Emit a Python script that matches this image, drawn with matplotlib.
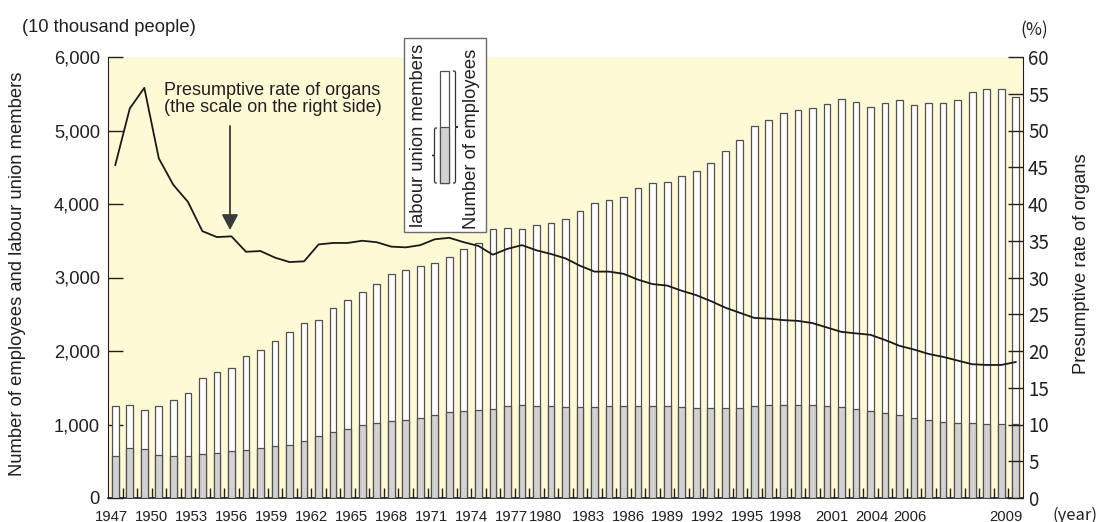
import numpy as np
import matplotlib
matplotlib.use('Agg')
import matplotlib.pyplot as plt
from matplotlib.patches import Rectangle, PathPatch
from matplotlib.path import Path

# ---------------- data ----------------
years = list(range(1947, 2010))
employees = [1254, 1264, 1196, 1250, 1340, 1427, 1634, 1711, 1766, 1933,
             2014, 2136, 2254, 2385, 2426, 2584, 2697, 2806, 2915, 3042,
             3096, 3159, 3199, 3277, 3390, 3471, 3657, 3675, 3661, 3711,
             3748, 3797, 3901, 4014, 4055, 4101, 4213, 4281, 4299, 4380,
             4448, 4562, 4725, 4875, 5065, 5141, 5241, 5282, 5309, 5367,
             5435, 5390, 5322, 5377, 5417, 5349, 5377, 5372, 5417, 5526,
             5567, 5567, 5458]
union_members = [571, 675, 671, 580, 571, 571, 598, 612, 634, 653,
                 684, 702, 721, 770, 843, 901, 942, 987, 1023, 1051,
                 1064, 1087, 1128, 1169, 1186, 1196, 1213, 1250, 1264, 1254,
                 1250, 1241, 1236, 1241, 1250, 1254, 1254, 1250, 1250, 1236,
                 1231, 1223, 1223, 1227, 1245, 1259, 1268, 1272, 1264, 1250,
                 1236, 1209, 1186, 1159, 1128, 1082, 1060, 1037, 1019, 1019,
                 1010, 1010, 1006]
org_rate = [45.3, 53.0, 55.8, 46.2, 42.6, 40.3, 36.3, 35.5, 35.6, 33.5,
            33.6, 32.7, 32.1, 32.2, 34.5, 34.7, 34.7, 35.0, 34.8, 34.2,
            34.1, 34.4, 35.2, 35.4, 34.8, 34.3, 33.1, 33.9, 34.4, 33.7,
            33.2, 32.6, 31.6, 30.8, 30.8, 30.5, 29.7, 29.1, 28.9, 28.2,
            27.6, 26.8, 25.9, 25.2, 24.5, 24.4, 24.2, 24.1, 23.8, 23.2,
            22.6, 22.4, 22.2, 21.5, 20.7, 20.2, 19.6, 19.2, 18.7, 18.2,
            18.1, 18.1, 18.5]
tick_labels = ['1947', '1950', '1953', '1956', '1959', '1962', '1965', '1968',
               '1971', '1974', '1977', '1980', '1983', '1986', '1989', '1992',
               '1995', '1998', '2001', '2004', '2006', '2009']

# ---------------- layout ----------------
plt.rcParams['font.family'] = ['Liberation Sans', 'DejaVu Sans']
CJK = ['Noto Sans CJK JP', 'DejaVu Sans']
TXT = '#231f20'
W, H = 1105, 522
L, R, B, T = 108, 1023, 498, 57
fig = plt.figure(figsize=(W / 100, H / 100), dpi=100)
ax = fig.add_axes([L / W, 1 - B / H, (R - L) / W, (B - T) / H])
ax.set_facecolor('#FFFAD6')

n = len(years)
x = np.arange(n)
slot = (R - L) / n
# label centres as placed in the reference (pixels), converted to data units
label_px = [111.7, 151.7, 191.7, 231.7, 271.7, 311.7, 351.7, 391.7, 431.7,
            471.7, 511, 545, 588, 628, 668, 707, 747, 785, 832, 872, 910, 1006]
label_pos = [(p - L) / slot - 0.5 for p in label_px]

bw = 0.46
ax.bar(x, employees, bw, color='white', edgecolor='#505050', linewidth=0.9, zorder=2)
ax.bar(x, union_members, bw, color='#d2d2d2', edgecolor='#505050', linewidth=0.9, zorder=3)
ax.set_xlim(-0.5, n - 0.5)
ax.set_ylim(0, 6000)
ax.set_yticks(range(0, 6001, 1000))
ax.set_yticklabels([f'{v:,}' for v in range(0, 6001, 1000)])
ax.tick_params(axis='y', direction='in', length=10.8, width=1, pad=5.8,
               labelsize=13.2, color=TXT, labelcolor=TXT)
ax.set_xticks(label_pos)
ax.set_xticklabels(tick_labels)
ax.tick_params(axis='x', which='major', length=0, pad=8.6, labelsize=10.7, labelcolor=TXT)
ax.set_xticks(x[:-1] + 0.5, minor=True)
ax.tick_params(axis='x', which='minor', direction='in', length=7.2, width=1, color=TXT)
for s in ['top', 'right']:
    ax.spines[s].set_visible(False)
ax.spines['left'].set_color(TXT)
ax.spines['bottom'].set_color(TXT)
ax.spines['bottom'].set_linewidth(1.2)

ax2 = ax.twinx()
ax2.plot(x, org_rate, color='#1a1a1a', linewidth=1.3, zorder=5)
ax2.set_ylim(0, 60)
ax2.set_yticks(range(0, 61, 5))
ax2.tick_params(axis='y', direction='in', length=10.8, width=1, pad=3.6,
                labelsize=13.5, color=TXT, labelcolor=TXT)
for lab in ax2.get_yticklabels():
    lab.set_fontfamily(CJK)
for s in ['top', 'left', 'bottom']:
    ax2.spines[s].set_visible(False)
ax2.spines['right'].set_color(TXT)

# ---------------- overlay (pixel coordinates) ----------------
ov = fig.add_axes([0, 0, 1, 1], zorder=10)
ov.set_xlim(0, W)
ov.set_ylim(H, 0)
ov.axis('off')
ov.patch.set_visible(False)

fs = 13.2
ov.text(22, 32, '(10 thousand people)', fontsize=fs, color=TXT, va='baseline', ha='left')
ov.text(1034, 30.5, '(%)', fontsize=12.5, color=TXT, ha='center', va='center', family=CJK)
ov.text(1053, 515, '(year)', fontsize=12, color=TXT, ha='left', va='center', family=CJK)
ov.text(18, 274, 'Number of employees and labour union members', rotation=90,
        fontsize=fs, color=TXT, ha='center', va='center')
ov.text(1081, 264, 'Presumptive rate of organs', rotation=90,
        fontsize=fs, color=TXT, ha='center', va='center')

# annotation
ov.text(164, 95, 'Presumptive rate of organs', fontsize=13, color=TXT, va='baseline', ha='left')
ov.text(164, 112.5, '(the scale on the right side)', fontsize=13, color=TXT, va='baseline', ha='left')
ov.annotate('', xy=(230, 230), xytext=(230, 126),
            arrowprops=dict(arrowstyle='-|>,head_length=0.94,head_width=0.5',
                            mutation_scale=10, color='#3a3a3a', lw=1.3,
                            shrinkA=0, shrinkB=0))

# legend box
ov.add_patch(Rectangle((404, 38), 82, 194, facecolor='white', edgecolor='#6b6b6b', lw=1))
ov.add_patch(Rectangle((440, 71), 9, 112, facecolor='white', edgecolor='#505050', lw=0.9))
ov.add_patch(Rectangle((440, 127), 9, 56, facecolor='#d2d2d2', edgecolor='#505050', lw=0.9))
ov.text(418.5, 135, 'labour union members', rotation=90, fontsize=fs, color=TXT,
        ha='center', va='center')
ov.text(472, 138.5, 'Number of employees', rotation=90, fontsize=fs, color=TXT,
        ha='center', va='center')


def brace(axx, x_open, x_point, y0, y1, r=4):
    xm = (x_open + x_point) / 2
    ym = (y0 + y1) / 2
    verts = [(x_open, y0),
             (xm, y0), (xm, y0), (xm, y0 + r),
             (xm, ym - r),
             (xm, ym), (xm, ym), (x_point, ym),
             (xm, ym), (xm, ym), (xm, ym + r),
             (xm, y1 - r),
             (xm, y1), (xm, y1), (x_open, y1)]
    codes = [Path.MOVETO,
             Path.CURVE4, Path.CURVE4, Path.CURVE4,
             Path.LINETO,
             Path.CURVE4, Path.CURVE4, Path.CURVE4,
             Path.CURVE4, Path.CURVE4, Path.CURVE4,
             Path.LINETO,
             Path.CURVE4, Path.CURVE4, Path.CURVE4]
    axx.add_patch(PathPatch(Path(verts, codes), facecolor='none', edgecolor='#333333', lw=0.9))


brace(ov, 437, 432, 128, 183)
brace(ov, 453, 458, 71, 183)

fig.savefig('out.png', dpi=100)
